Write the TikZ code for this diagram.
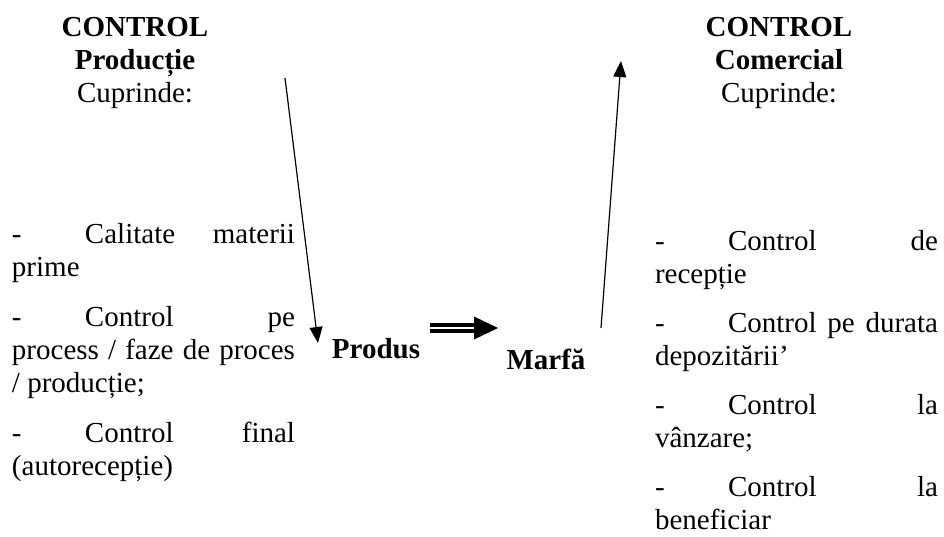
\documentclass[tikz,border=0pt]{standalone}
\usepackage{fontspec}
\setmainfont{Liberation Serif}
\usetikzlibrary{arrows.meta}
\newcommand\jlinel[1]{\hbox to 283pt{\hbox to 73pt{-\hfil}#1}}
\newcommand\jfull[1]{\hbox to 283pt{#1}}
\begin{document}
\begin{tikzpicture}[x=1pt,y=-1pt,
  txt/.style={inner sep=0pt, outer sep=0pt, anchor=base west, font=\fontsize{29}{33}\selectfont},
  head/.style={inner sep=0pt, outer sep=0pt, anchor=base, font=\fontsize{29}{33}\selectfont},
  headb/.style={head, font=\fontsize{29}{33}\selectfont\bfseries},
  arr/.style={line width=1.2pt, -{Triangle[length=16pt,width=13pt]}},
  dbl/.style={line width=3.3pt, double=white, double distance=2.6pt},
]
\fill[white] (0,0) rectangle (944,536);
\useasboundingbox (0,0) rectangle (944,536);

% left header
\node[headb] (lh1) at (135,36) {CONTROL};
\node[headb] (lh2) at (135,69) {Producție};
\node[head]  (lh3) at (135,102) {Cuprinde:};
% right header
\node[headb] (rh1) at (779,36) {CONTROL};
\node[headb] (rh2) at (779,69) {Comercial};
\node[head]  (rh3) at (779,102) {Cuprinde:};

% left list
\node[txt] (l1) at (12,243) {\jlinel{Calitate\hfill materii}};
\node[txt] (l2) at (12,276) {prime};
\node[txt] (l3) at (12,326) {\jlinel{Control\hfill pe}};
\node[txt] (l4) at (12,359) {\jfull{process\hfill/\hfill faze\hfill de\hfill proces}};
\node[txt] (l5) at (12,392) {/ producție;};
\node[txt] (l6) at (12,442) {\jlinel{Control\hfill final}};
\node[txt] (l7) at (12,475) {(autorecepție)};

% right list
\node[txt] (r1) at (655,250) {\jlinel{Control\hfill de}};
\node[txt] (r2) at (655,283) {recepție};
\node[txt] (r3) at (655,332) {\jlinel{Control\hfill pe\hfill durata}};
\node[txt] (r4) at (655,365) {depozitării’};
\node[txt] (r5) at (655,414) {\jlinel{Control\hfill la}};
\node[txt] (r6) at (655,447) {vânzare;};
\node[txt] (r7) at (655,496.5) {\jlinel{Control\hfill la}};
\node[txt] (r8) at (655,529.5) {beneficiar};

% centre words
\node[headb] (produs) at (376,358) {Produs};
\node[headb] (marfa) at (546,369) {Marfă};

% arrows
\coordinate (pA) at (285,78);
\coordinate (pB) at (318,343);
\draw[arr] (pA) -- (pB);
\coordinate (mA) at (601,328);
\coordinate (mB) at (621,61);
\draw[arr] (mA) -- (mB);

\coordinate (dA) at (430,328);
\coordinate (dB) at (476,328);
\draw[dbl] (dA) -- (dB);
\fill (dB) ++(-2,-11.5) -- ++(24,11.5) -- ++(-24,11.5) -- cycle;
\end{tikzpicture}
\end{document}
